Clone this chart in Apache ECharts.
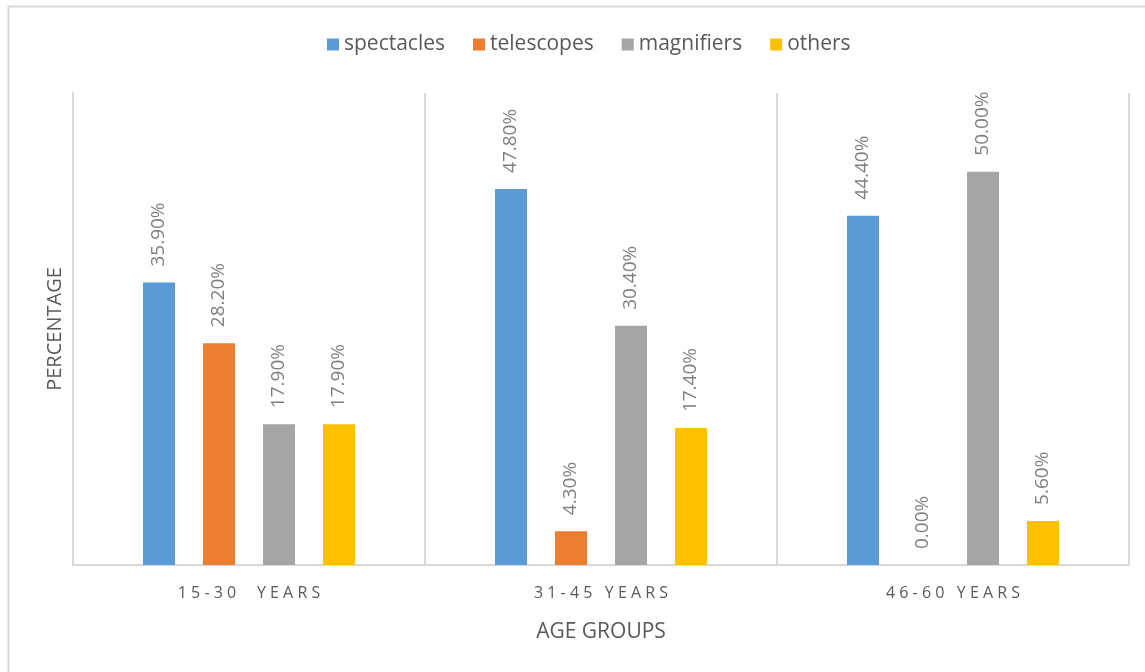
<!DOCTYPE html>
<html>
<head>
<meta charset="utf-8">
<script src="https://cdn.jsdelivr.net/npm/echarts@6/dist/echarts.min.js"></script>
<style>
    html, body { margin: 0; padding: 0; background: #fff; }
    #main { width: 1145px; height: 672px; }
</style>
</head>
<body>
<div id="main"></div>
<script type="text/javascript">
    // data
    var categories = ['15-30  YEARS', '31-45 YEARS', '46-60 YEARS'];
    var spectacles = [35.9, 47.8, 44.4];
    var telescopes = [28.2, 4.3, 0.0];
    var magnifiers = [17.9, 30.4, 50.0];
    var others = [17.9, 17.4, 5.6];

    var FONT = '"Open Sans", sans-serif';

    function barSeries(name, values, color) {
        return {
            name: name,
            type: 'bar',
            data: values,
            barWidth: 32,
            barGap: '87.5%',
            itemStyle: { color: color },
            label: {
                show: true,
                position: 'top',
                rotate: 90,
                align: 'left',
                verticalAlign: 'middle',
                distance: 16,
                color: '#7f7f7f',
                fontFamily: FONT,
                fontSize: 19,
                formatter: function (p) { return p.value.toFixed(2) + '%'; }
            }
        };
    }

    var myChart = echarts.init(document.getElementById('main'));

    var option = {
        animation: false,
        backgroundColor: '#fff',
        graphic: [{
            type: 'rect',
            left: 6, top: 4,
            shape: { width: 1200, height: 720 },
            style: { fill: 'none', stroke: '#d9d9d9', lineWidth: 2 },
            silent: true
        }],
        legend: {
            top: 29,
            left: 322,
            itemWidth: 12,
            itemHeight: 12,
            itemGap: 28,
            icon: 'rect',
            textStyle: { color: '#595959', fontFamily: FONT, fontSize: 21 },
            data: ['spectacles', 'telescopes', 'magnifiers', 'others']
        },
        grid: {
            left: 73,
            right: 16,
            top: 93,
            bottom: 107,
            containLabel: false
        },
        xAxis: {
            type: 'category',
            data: categories,
            name: 'AGE GROUPS',
            nameLocation: 'middle',
            nameGap: 57,
            nameTextStyle: { color: '#595959', fontFamily: FONT, fontSize: 21 },
            axisLine: { show: true, lineStyle: { color: '#d9d9d9', width: 2 } },
            axisTick: { show: false },
            splitLine: { show: true, lineStyle: { color: '#d9d9d9', width: 2 } },
            axisLabel: {
                color: '#595959',
                fontFamily: FONT,
                fontSize: 16,
                margin: 20,
                formatter: function (v) { return v.split('').join(' '); }
            }
        },
        yAxis: {
            type: 'value',
            min: 0,
            max: 60,
            name: 'PERCENTAGE',
            nameLocation: 'middle',
            nameGap: 8,
            nameTextStyle: { color: '#595959', fontFamily: FONT, fontSize: 20 },
            axisLine: { show: true, lineStyle: { color: '#d9d9d9', width: 2 } },
            axisTick: { show: false },
            axisLabel: { show: false },
            splitLine: { show: false }
        },
        series: [
            barSeries('spectacles', spectacles, '#5b9bd5'),
            barSeries('telescopes', telescopes, '#ed7d31'),
            barSeries('magnifiers', magnifiers, '#a5a5a5'),
            barSeries('others', others, '#ffc000')
        ]
    };

    myChart.setOption(option);
</script>
</body>
</html>
